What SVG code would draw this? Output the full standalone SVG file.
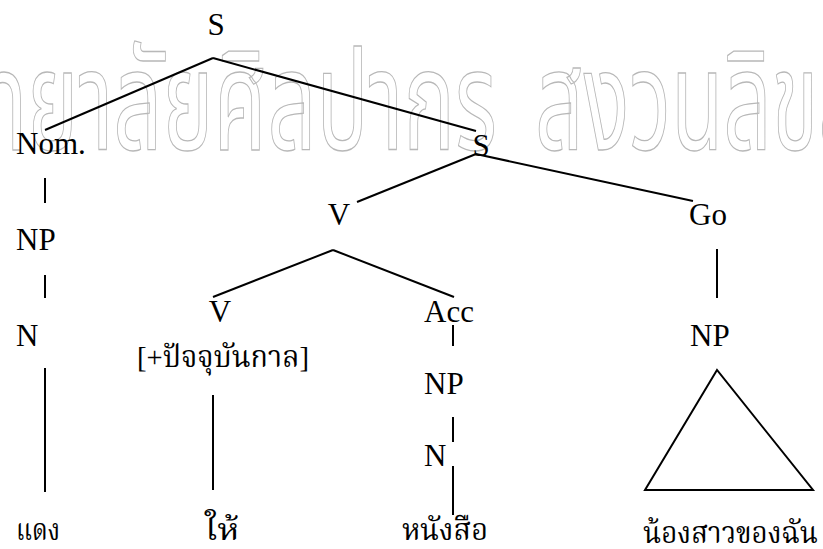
<svg xmlns="http://www.w3.org/2000/svg" width="823" height="549" viewBox="0 0 823 549">
<style>
.t{font-family:"Liberation Serif","Times New Roman",serif;font-size:31px;fill:#000}
.th{font-family:"Liberation Serif","Noto Serif Thai","Noto Sans Thai",serif;font-size:30px;fill:#000}
.wm{font-family:"Noto Sans Thai","Noto Sans","DejaVu Sans",sans-serif;font-size:140px;fill:none;stroke:#b8b8b8;stroke-width:1.3}
.ln{stroke:#000;stroke-width:2;fill:none}
</style>
<rect width="823" height="549" fill="#fff"/>
<g id="watermark">
<text class="wm" x="-25" y="150" textLength="522" lengthAdjust="spacingAndGlyphs">ทยาลัยศิลปากร</text>
<text class="wm" x="535" y="150" textLength="430" lengthAdjust="spacingAndGlyphs">สงวนลิขสิทธิ์</text>
</g>
<g id="connectors" class="ln">
<line x1="213" y1="58" x2="45" y2="130"/>
<line x1="213" y1="58" x2="476" y2="131"/>
<line x1="476" y1="154" x2="357" y2="202"/>
<line x1="476" y1="154" x2="693" y2="201"/>
<line x1="45" y1="178" x2="45" y2="203"/>
<line x1="45" y1="275" x2="45" y2="298"/>
<line x1="45" y1="368" x2="45" y2="492"/>
<line x1="333" y1="250" x2="213" y2="297"/>
<line x1="333" y1="250" x2="454" y2="297"/>
<line x1="453" y1="325" x2="453" y2="346"/>
<line x1="453" y1="417" x2="453" y2="442"/>
<line x1="453" y1="466" x2="453" y2="515"/>
<line x1="213" y1="395" x2="213" y2="490"/>
<line x1="717" y1="249" x2="717" y2="298"/>
</g>
<g id="n-s-top"><text class="t" x="216" y="35" text-anchor="middle">S</text></g>
<g id="n-nom"><text class="t" x="16" y="154">Nom.</text></g>
<g id="n-s-mid"><text class="t" x="481" y="156" text-anchor="middle">S</text></g>
<g id="n-v-mid"><text class="t" x="339" y="225" text-anchor="middle">V</text></g>
<g id="n-go"><text class="t" x="708" y="225" text-anchor="middle">Go</text></g>
<g id="n-np-left"><text class="t" x="16" y="250">NP</text></g>
<g id="n-n-left"><text class="t" x="16" y="346">N</text></g>
<g id="n-v-low"><text class="t" x="220" y="322" text-anchor="middle">V</text></g>
<g id="n-acc"><text class="t" x="424" y="322">Acc</text></g>
<g id="n-np-right"><text class="t" x="690" y="346">NP</text></g>
<g id="n-tense"><text class="th" x="137" y="367" textLength="172" lengthAdjust="spacingAndGlyphs">[+ปัจจุบันกาล]</text></g>
<g id="n-np-mid"><text class="t" x="424" y="394">NP</text></g>
<g id="n-n-mid"><text class="t" x="424" y="466">N</text></g>
<g id="n-triangle"><polygon class="ln" points="717,370 645,490 813,490"/></g>
<g id="n-daeng"><text class="th" x="16" y="540" textLength="44" lengthAdjust="spacingAndGlyphs">แดง</text></g>
<g id="n-hai"><text class="th" x="205" y="540" textLength="34" lengthAdjust="spacingAndGlyphs">ให้</text></g>
<g id="n-book"><text class="th" x="402" y="540" textLength="86" lengthAdjust="spacingAndGlyphs">หนังสือ</text></g>
<g id="n-sister"><text class="th" x="643" y="543" textLength="175" lengthAdjust="spacingAndGlyphs">น้องสาวของฉัน</text></g>
</svg>
